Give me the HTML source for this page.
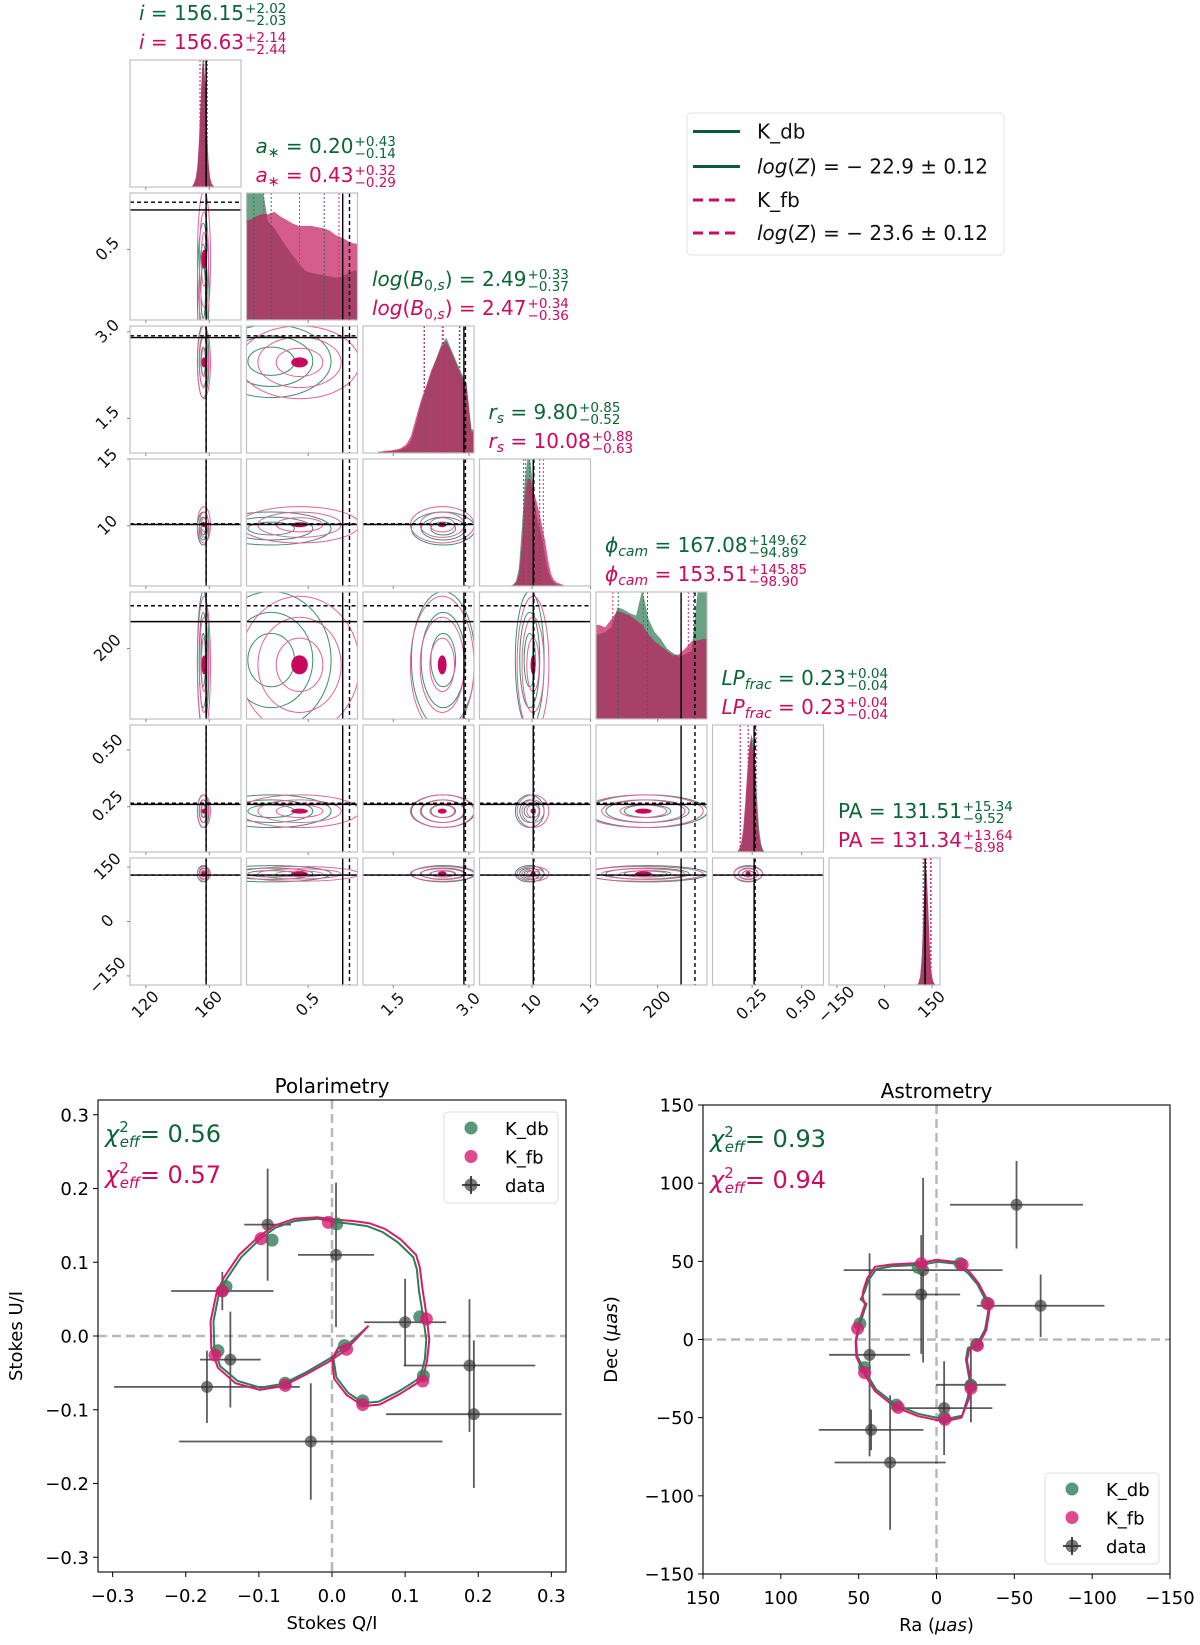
<!DOCTYPE html>
<html><head><meta charset="utf-8">
<style>
html,body{margin:0;padding:0;background:#fff;}
body{width:1200px;height:1645px;position:relative;overflow:hidden;font-family:"DejaVu Sans","Liberation Sans",sans-serif;}
svg{position:absolute;left:0;top:0;}
.ttl{position:absolute;white-space:nowrap;font-size:20px;line-height:28px;height:28px;}
.ttl .ss{display:inline-block;vertical-align:-0.4em;font-size:13.5px;line-height:12px;margin-left:1px;}
.ttl .ss span{display:block;}
.ttl sub{font-size:14px;vertical-align:-0.3em;line-height:0;}
.g{color:#0b6636;}
.p{color:#cc0a5e;}
</style></head>
<body>
<svg id="fig" width="1200" height="1645" xmlns="http://www.w3.org/2000/svg" font-family="DejaVu Sans, Liberation Sans, sans-serif"></svg>
<div id="titles"></div>
<script>
// ---------- corner data ----------
const rangeLo = [110, 0, 0.9, 5.5, 0, 0.05, -175];
const rangeHi = [180, 0.9, 3.1, 15, 360, 0.61, 175];
const medDb = [156.15, 0.20, 2.49, 9.80, 167.08, 0.23, 131.51];
const errPlusDb = [2.02, 0.43, 0.33, 0.85, 149.62, 0.04, 15.34];
const errMinusDb = [2.03, 0.14, 0.37, 0.52, 94.89, 0.04, 9.52];
const medFb = [156.63, 0.43, 2.47, 10.08, 153.51, 0.23, 131.34];
const errPlusFb = [2.14, 0.32, 0.34, 0.88, 145.85, 0.04, 13.64];
const errMinusFb = [2.44, 0.29, 0.36, 0.63, 98.90, 0.04, 8.98];
const truthSolid = [158, 0.78, 2.90, 10.10, 276, 0.26, 128];
const truthDashed = [158, 0.835, 2.93, 10.15, 321, 0.265, 128];
const histLo = [148, 0, 1.2, 8.0, 0, 0.17, 100];
const histStep = [1, 0.05, 0.1, 0.25, 20, 0.01, 5];
const histDbI = [0,.01,.03,.07,.15,.35,.7,1.05,1.1,.85,.45,.18,.06,.02,.01,0,0,0];
const histFbI = [0,.01,.04,.08,.18,.4,.72,1.0,1.05,.88,.5,.22,.08,.03,.01,0,0,0];
const histDbA = [1.2,1.2,1.15,.84,.78,.7,.62,.55,.48,.42,.4,.39,.38,.37,.36,.37,.4,.42];
const histFbA = [.85,.88,.9,.9,.92,.88,.85,.82,.8,.8,.8,.79,.78,.76,.72,.7,.67,.65];
const histDbB = [.01,.01,.02,.02,.03,.05,.1,.25,.42,.55,.68,.8,.92,.98,.88,.78,.68,.6,.2];
const histFbB = [.01,.02,.02,.03,.04,.07,.14,.3,.45,.57,.7,.8,.9,.95,.86,.76,.66,.58,.18];
const histDbR = [0,.01,.04,.15,.5,.9,1.1,1.05,.8,.6,.5,.4,.25,.12,.06,.03,.01,.01,0,0];
const histFbR = [0,.01,.03,.1,.35,.75,.92,.9,.8,.72,.62,.5,.38,.22,.1,.05,.03,.02,.01,0];
const histDbP = [.72,.74,.78,.95,.93,.9,.88,1.1,.85,.74,.68,.6,.56,.53,.55,.58,1.1,1.1];
const histFbP = [.8,.78,.85,.92,.9,.88,.84,.8,.72,.66,.62,.58,.54,.55,.6,.66,.67,.68];
const histDbL = [0,.02,.06,.15,.35,.6,.85,1,.95,.75,.45,.2,.07,.02,0,0];
const histFbL = [0,.03,.08,.2,.42,.68,.9,.98,.85,.6,.33,.14,.05,.01,0,0];
const histDbPA = [0,.02,.06,.2,.55,.9,1,.7,.35,.12,.04,.01,0];
const histFbPA = [0,.02,.08,.25,.6,.95,.95,.65,.3,.1,.03,.01,0];
const histDb = [histDbI, histDbA, histDbB, histDbR, histDbP, histDbL, histDbPA];
const histFb = [histFbI, histFbA, histFbB, histFbR, histFbP, histFbL, histFbPA];
const colTicks = [[120,160],[0.5],[1.5,3.0],[10,15],[200],[0.25,0.5],[-150,0,150]];
const colTickLabels = [['120','160'],['0.5'],['1.5','3.0'],['10','15'],['200'],['0.25','0.50'],['−150','0','150']];
const paramKeys = ['i','a-star','log-b','r-s','phi-cam','lp-frac','pa'];
const paramLabels = ['<i>i</i>','<i>a</i><sub>∗</sub>','<i>log</i>(<i>B</i><sub>0,<i>s</i></sub>)','<i>r<sub>s</sub></i>','<i>ϕ<sub>cam</sub></i>','<i>LP<sub>frac</sub></i>','PA'];

// ---------- polarimetry data ----------
const polDataQ = [-0.088, 0.0055, -0.150, -0.139, -0.171, -0.029, 0.100, 0.188, 0.194];
const polDataU = [0.151, 0.110, 0.061, -0.032, -0.069, -0.143, 0.0186, -0.040, -0.106];
const polErrQ = [0.032, 0.052, 0.070, 0.0415, 0.127, 0.180, 0.056, 0.090, 0.120];
const polErrU = [0.076, 0.098, 0.026, 0.065, 0.049, 0.079, 0.059, 0.090, 0.100];
const polCurveDbQ = [.048,.017,-.004,-.035,-.067,-.098,-.129,-.153,-.161,-.162,-.155,-.145,-.124,-.098,-.077,-.051,-.020,.001,.027,.048,.069,.090,.111,.116,.119,.124,.129,.127,.121,.106,.090,.064,.043,.022,.006,.002,.009,.020];
const polCurveDbU = [.012,-.016,-.031,-.049,-.065,-.070,-.061,-.041,-.016,.020,.056,.076,.107,.132,.147,.156,.159,.155,.152,.149,.141,.127,.107,.091,.061,.030,-.005,-.031,-.056,-.066,-.076,-.089,-.091,-.077,-.056,-.031,-.015,-.013];
const polCurveFbQ = [.050,.019,-.003,-.035,-.067,-.099,-.132,-.156,-.165,-.166,-.158,-.148,-.127,-.100,-.078,-.051,-.020,.002,.029,.051,.073,.094,.115,.120,.124,.129,.133,.130,.124,.108,.092,.065,.043,.020,.003,.000,.008,.020];
const polCurveFbU = [.014,-.019,-.034,-.052,-.068,-.073,-.064,-.043,-.017,.020,.058,.079,.110,.135,.150,.159,.161,.158,.156,.153,.145,.131,.110,.093,.062,.030,-.005,-.033,-.059,-.069,-.079,-.093,-.095,-.080,-.058,-.031,-.017,-.016];
const polMarkDbQ = [0.0065,-0.082,-0.145,-0.156,-0.064,0.042,0.017,0.125,0.120];
const polMarkDbU = [0.152,0.130,0.067,-0.020,-0.064,-0.088,-0.013,-0.054,0.026];
const polMarkFbQ = [-0.005,-0.097,-0.150,-0.160,-0.064,0.042,0.020,0.124,0.129];
const polMarkFbU = [0.154,0.132,0.061,-0.026,-0.067,-0.093,-0.018,-0.061,0.023];
const polTicks = [-0.3,-0.2,-0.1,0,0.1,0.2,0.3];
const polTickLabels = ['−0.3','−0.2','−0.1','0.0','0.1','0.2','0.3'];

// ---------- astrometry data ----------
const astDataRa = [-51.4, 8.6, 9.8, -66.9, 43.0, 42.0, 29.8, -4.9, -22.1];
const astDataDec = [86.2, 44.4, 28.8, 21.6, -9.8, -57.8, -78.7, -43.9, -29.0];
const astErrRa = [42.7, 51, 25, 41, 26, 33.6, 35.7, 31, 22.4];
const astErrDec = [28, 59, 38, 20, 65, 13, 43, 30, 24];
const astCurveDbRa = [9.3,29.0,38.8,43.8,46.2,48.7,45.0,48.7,51.6,51.1,46.2,38.8,26.6,11.8,-5.4,-16.5,-20.2,-21.4,-18.9,-20.2,-26.3,-31.2,-33.7,-31.2,-26.3,-20.2,-12.8,-0.5,9.3];
const astCurveDbDec = [47.8,46.8,44.9,37.7,30.5,25.7,22.8,11.3,-0.7,-10.3,-19.9,-31.9,-41.5,-47.5,-51.1,-48.7,-36.7,-27.1,-12.7,-5.5,-2.6,6.5,20.9,25.7,35.3,42.5,48.5,49.7,47.8];
const astCurveFbRa = [10.0,29.5,39.5,44.5,47.0,47.5,46.0,49.5,52.0,51.5,47.0,39.5,27.0,12.0,-5.0,-16.0,-21.0,-22.5,-19.5,-21.0,-27.0,-32.0,-34.5,-32.0,-27.0,-21.0,-13.0,0.0,10.0];
const astCurveFbDec = [49.0,48.0,46.5,39.0,31.5,27.5,22.0,12.0,-1.0,-11.0,-21.0,-33.0,-43.0,-49.0,-52.5,-50.0,-37.5,-28.5,-13.5,-6.5,-3.5,6.0,21.5,26.5,36.0,43.5,49.5,51.0,49.0];
const astMarkDbRa = [-15.2,11.8,-32.5,49.2,46.2,25.8,-22.1,-25.8,-4.9];
const astMarkDbDec = [48.5,46.1,23.3,10.1,-18.0,-42.0,-29.5,-3.1,-49.9];
const astMarkFbRa = [-16.5,9.8,-33.2,50.7,46.2,24.6,-22.1,-26.3,-5.4];
const astMarkFbDec = [47.8,48.5,22.8,7.0,-21.1,-43.4,-31.2,-3.8,-51.1];
const astTicks = [150,100,50,0,-50,-100,-150];
const astTickLabels = ['150','100','50','0','−50','−100','−150'];

// ---------- helpers ----------
const NS = 'http://www.w3.org/2000/svg';
const svg = document.getElementById('fig');
function mk(tag, attrs, parent) {
  const e = document.createElementNS(NS, tag);
  for (const k in attrs) e.setAttribute(k, attrs[k]);
  (parent || svg).appendChild(e);
  return e;
}
const GREEN_FILL = '#4f9270', PINK_FILL = '#c2185b';
const GREEN_LINE = '#3f8f66', PINK_LINE = '#e2629e';
const defs = mk('defs', {});

// ---------- corner ----------
const C0 = 130, CP = 116.5, CW = 111, R0 = 60, RP = 133, RH = 127;
function px(c, v) { return C0 + c * CP + (v - rangeLo[c]) / (rangeHi[c] - rangeLo[c]) * CW; }
function py(r, v) { return R0 + r * RP + RH - (v - rangeLo[r]) / (rangeHi[r] - rangeLo[r]) * RH; }

function histPath(k, arr) {
  const bottom = R0 + k * RP + RH;
  const step = histStep[k];
  let d = 'M' + px(k, histLo[k]) + ',' + bottom;
  d += ' L' + px(k, histLo[k]) + ',' + (bottom - arr[0] / 1.08 * RH);
  for (let j = 0; j < arr.length; j++) {
    const x = px(k, histLo[k] + (j + 0.5) * step);
    const y = bottom - arr[j] / 1.08 * RH;
    d += ' L' + x.toFixed(1) + ',' + y.toFixed(1);
  }
  const xe = px(k, histLo[k] + arr.length * step);
  d += ' L' + xe + ',' + (bottom - arr[arr.length - 1] / 1.08 * RH);
  d += ' L' + xe + ',' + bottom + ' Z';
  return d;
}

for (let r = 0; r < 7; r++) {
  for (let c = 0; c <= r; c++) {
    const x0 = C0 + c * CP, y0 = R0 + r * RP;
    const clip = mk('clipPath', { id: 'cp' + r + '_' + c }, defs);
    mk('rect', { x: x0, y: y0, width: CW, height: RH }, clip);
    const g = mk('g', {});
    
    
    const inner = mk('g', { 'clip-path': 'url(#cp' + r + '_' + c + ')' }, g);
    if (r === c) {
      const hg = mk('path', { d: histPath(c, histDb[c]), fill: GREEN_FILL, 'fill-opacity': 0.85 }, inner);
      
      
      const hp = mk('path', { d: histPath(c, histFb[c]), fill: PINK_FILL, 'fill-opacity': 0.7 }, inner);
      
      
      const qs = [
        [medDb[c] - errMinusDb[c], medDb[c], medDb[c] + errPlusDb[c], '#2f6f4f'],
        [medFb[c] - errMinusFb[c], medFb[c], medFb[c] + errPlusFb[c], '#e0287a']
      ];
      for (const q of qs) {
        for (let j = 0; j < 3; j++) {
          const x = px(c, q[j]);
          const ql = mk('line', { x1: x, x2: x, y1: y0, y2: y0 + RH, stroke: q[3], 'stroke-width': 1, 'stroke-dasharray': '2,2' }, inner);
          
          
        }
      }
      const xs = px(c, truthSolid[c]), xd = px(c, truthDashed[c]);
      mk('line', { x1: xs, x2: xs, y1: y0, y2: y0 + RH, stroke: '#000', 'stroke-width': 1.4 }, inner);
      mk('line', { x1: xd, x2: xd, y1: y0, y2: y0 + RH, stroke: '#000', 'stroke-width': 1.4, 'stroke-dasharray': '4,3' }, inner);
    } else {
      const models = [
        [medDb, errPlusDb, errMinusDb, GREEN_LINE],
        [medFb, errPlusFb, errMinusFb, PINK_LINE]
      ];
      for (const m of models) {
        const cx = px(c, m[0][c]), cy = py(r, m[0][r]);
        const sx = Math.min(0.3 * CW, (m[1][c] + m[2][c]) / 2 / (rangeHi[c] - rangeLo[c]) * CW);
        const sy = Math.min(0.3 * RH, (m[1][r] + m[2][r]) / 2 / (rangeHi[r] - rangeLo[r]) * RH);
        for (const lev of [0.7, 1.25, 1.8]) {
          const e = mk('ellipse', { cx: cx, cy: cy, rx: sx * lev, ry: sy * lev, fill: 'none', stroke: m[3], 'stroke-width': 1 }, inner);
          
          
        }
      }
      const fcx = px(c, medFb[c]), fcy = py(r, medFb[r]);
      const fsx = Math.min(0.3 * CW, (errPlusFb[c] + errMinusFb[c]) / 2 / (rangeHi[c] - rangeLo[c]) * CW);
      const fsy = Math.min(0.3 * RH, (errPlusFb[r] + errMinusFb[r]) / 2 / (rangeHi[r] - rangeLo[r]) * RH);
      const core = mk('ellipse', { cx: fcx, cy: fcy, rx: Math.max(2.5, fsx * 0.25), ry: Math.max(2.5, fsy * 0.25), fill: '#c8075e' }, inner);
      
      
      const xs = px(c, truthSolid[c]), xd = px(c, truthDashed[c]);
      const ys = py(r, truthSolid[r]), yd = py(r, truthDashed[r]);
      mk('line', { x1: xs, x2: xs, y1: y0, y2: y0 + RH, stroke: '#000', 'stroke-width': 1.4 }, inner);
      mk('line', { x1: xd, x2: xd, y1: y0, y2: y0 + RH, stroke: '#000', 'stroke-width': 1.4, 'stroke-dasharray': '4,3' }, inner);
      mk('line', { x1: x0, x2: x0 + CW, y1: ys, y2: ys, stroke: '#000', 'stroke-width': 1.4 }, inner);
      mk('line', { x1: x0, x2: x0 + CW, y1: yd, y2: yd, stroke: '#000', 'stroke-width': 1.4, 'stroke-dasharray': '4,3' }, inner);
    }
    const fr = mk('rect', { x: x0, y: y0, width: CW, height: RH, fill: 'none', stroke: '#c0c0c0', 'stroke-width': 1.2 }, g);
    
    
    for (const t of colTicks[c]) {
      const tx = px(c, t);
      mk('line', { x1: tx, x2: tx, y1: y0 + RH, y2: y0 + RH + 3, stroke: '#888', 'stroke-width': 1 }, g);
    }
    if (c === 0 && r > 0) {
      for (const t of colTicks[r]) {
        const ty = py(r, t);
        mk('line', { x1: x0 - 3, x2: x0, y1: ty, y2: ty, stroke: '#888', 'stroke-width': 1 }, g);
      }
    }
  }
}
for (let c = 0; c < 7; c++) {
  const bottom = R0 + 6 * RP + RH;
  colTicks[c].forEach((t, j) => {
    const x = px(c, t), y = bottom + 20;
    const tl = mk('text', { x: x, y: y, 'font-size': 16, 'text-anchor': 'middle', 'dominant-baseline': 'middle', transform: 'rotate(-45 ' + x + ' ' + y + ')', fill: '#111' });
    tl.textContent = colTickLabels[c][j];
    
    
  });
}
for (let r = 1; r < 7; r++) {
  colTicks[r].forEach((t, j) => {
    const x = C0 - 22, y = py(r, t);
    const tl = mk('text', { x: x, y: y, 'font-size': 16, 'text-anchor': 'middle', 'dominant-baseline': 'middle', transform: 'rotate(-45 ' + x + ' ' + y + ')', fill: '#111' });
    tl.textContent = colTickLabels[r][j];
    
    
  });
}
const titles = document.getElementById('titles');
for (let k = 0; k < 7; k++) {
  const left = C0 + k * CP + 9;
  const pinkC = R0 + k * RP - 17;
  const rows = [['g', medDb, errPlusDb, errMinusDb, pinkC - 29, 'k-db'], ['p', medFb, errPlusFb, errMinusFb, pinkC, 'k-fb']];
  for (const rw of rows) {
    const d = document.createElement('div');
    d.className = 'ttl ' + rw[0];
    d.style.left = left + 'px';
    d.style.top = (rw[4] - 15) + 'px';
    d.innerHTML = paramLabels[k] + ' = ' + rw[1][k].toFixed(2) + '<span class="ss"><span>+' + rw[2][k].toFixed(2) + '</span><span>−' + rw[3][k].toFixed(2) + '</span></span>';
    
    
    titles.appendChild(d);
  }
}

const lg = mk('g', {});


mk('rect', { x: 687, y: 113, width: 317, height: 142, rx: 4, fill: '#fff', stroke: '#e3e3e3', 'stroke-width': 1 }, lg);
const legRows = [
  ['K_db', '#0a5c36', '', 131.5, false],
  ['log(Z) = − 22.9 ± 0.12', '#0a5c36', '', 166.5, true],
  ['K_fb', '#cc0a66', '10,6', 200, false],
  ['log(Z) = − 23.6 ± 0.12', '#cc0a66', '10,6', 233, true]
];
for (const lr of legRows) {
  const ln = mk('line', { x1: 693, x2: 740, y1: lr[3], y2: lr[3], stroke: lr[1], 'stroke-width': 3, 'stroke-dasharray': lr[2] || 'none' }, lg);
  
  
  const t = mk('text', { x: 757, y: lr[3] + 7, 'font-size': 20, fill: '#111' }, lg);
  if (lr[4]) {
    const parts = lr[0].split(' = ');
    const a = mk('tspan', { 'font-style': 'italic' }, t); a.textContent = 'log';
    const b = mk('tspan', {}, t); b.textContent = '(';
    const c2 = mk('tspan', { 'font-style': 'italic' }, t); c2.textContent = 'Z';
    const d2 = mk('tspan', {}, t); d2.textContent = ') = ' + parts[1];
  } else t.textContent = lr[0];
  
  
}

function scatterPanel(o) {
  const g = mk('g', {});
  
  
  const X = v => o.ax + (v - o.xlo) / (o.xhi - o.xlo) * o.aw;
  const Y = v => o.ay + (o.yhi - v) / (o.yhi - o.ylo) * o.ah;
  const cid = 'clip-' + o.name;
  const cl = mk('clipPath', { id: cid }, defs);
  mk('rect', { x: o.ax, y: o.ay, width: o.aw, height: o.ah }, cl);
  const inner = mk('g', { 'clip-path': 'url(#' + cid + ')' }, g);
  const z0 = mk('line', { x1: X(0), x2: X(0), y1: o.ay, y2: o.ay + o.ah, stroke: '#b8b8b8', 'stroke-width': 2.5, 'stroke-dasharray': '9,5' }, inner);
  
  
  const z1 = mk('line', { x1: o.ax, x2: o.ax + o.aw, y1: Y(0), y2: Y(0), stroke: '#b8b8b8', 'stroke-width': 2.5, 'stroke-dasharray': '9,5' }, inner);
  
  
  for (let i = 0; i < o.dx.length; i++) {
    const cx = X(o.dx[i]), cy = Y(o.dy[i]);
    const eb = mk('g', {}, inner);
    
    
    mk('line', { x1: X(o.dx[i] - o.ex[i]), x2: X(o.dx[i] + o.ex[i]), y1: cy, y2: cy, stroke: '#333', 'stroke-opacity': 0.8, 'stroke-width': 1.8 }, eb);
    mk('line', { x1: cx, x2: cx, y1: Y(o.dy[i] - o.ey[i]), y2: Y(o.dy[i] + o.ey[i]), stroke: '#333', 'stroke-opacity': 0.8, 'stroke-width': 1.8 }, eb);
    mk('circle', { cx: cx, cy: cy, r: 6, fill: '#333', 'fill-opacity': 0.65 }, eb);
  }
  const curves = [[o.cdx, o.cdy, '#2e7d55', 'model-curve-k-db'], [o.cfx, o.cfy, '#d81b70', 'model-curve-k-fb']];
  for (const cv of curves) {
    let d = '';
    for (let i = 0; i < cv[0].length; i++) d += (i ? ' L' : 'M') + X(cv[0][i]).toFixed(1) + ',' + Y(cv[1][i]).toFixed(1);
    const p = mk('path', { d: d, fill: 'none', stroke: cv[2], 'stroke-width': 2 }, inner);
    
    
  }
  const marks = [[o.mdx, o.mdy, '#2e7d55', 'model-marker-k-db'], [o.mfx, o.mfy, '#d81b70', 'model-marker-k-fb']];
  for (const mm of marks) {
    for (let i = 0; i < mm[0].length; i++) {
      const c = mk('circle', { cx: X(mm[0][i]), cy: Y(mm[1][i]), r: 6.5, fill: mm[2], 'fill-opacity': 0.8 }, inner);
      
      
    }
  }
  mk('rect', { x: o.ax, y: o.ay, width: o.aw, height: o.ah, fill: 'none', stroke: '#000', 'stroke-width': 1.1 }, g);
  o.xt.forEach((t, j) => {
    const x = X(t);
    mk('line', { x1: x, x2: x, y1: o.ay + o.ah, y2: o.ay + o.ah + 5, stroke: '#000', 'stroke-width': 1 }, g);
    const tl = mk('text', { x: x, y: o.ay + o.ah + 30, 'font-size': 18, 'text-anchor': 'middle', fill: '#000' }, g);
    tl.textContent = o.xtl[j];
    
    
  });
  o.yt.forEach((t, j) => {
    const y = Y(t);
    mk('line', { x1: o.ax - 5, x2: o.ax, y1: y, y2: y, stroke: '#000', 'stroke-width': 1 }, g);
    const tl = mk('text', { x: o.ax - 9, y: y + 6.5, 'font-size': 18, 'text-anchor': 'end', fill: '#000' }, g);
    tl.textContent = o.ytl[j];
    
    
  });
  const tt = mk('text', { x: o.ax + o.aw / 2, y: o.ay - 7, 'font-size': 20, 'text-anchor': 'middle', fill: '#000' }, g);
  tt.textContent = o.title;
  
  
  const xl = mk('text', { x: o.ax + o.aw / 2, y: o.ay + o.ah + 57, 'font-size': 18, 'text-anchor': 'middle', fill: '#000' }, g);
  xl.innerHTML = o.xlabel;
  
  
  const ylx = o.ylx, yly = o.ay + o.ah / 2;
  const yl = mk('text', { x: ylx, y: yly, 'font-size': 18, 'text-anchor': 'middle', transform: 'rotate(-90 ' + ylx + ' ' + yly + ')', fill: '#000' }, g);
  yl.innerHTML = o.ylabel;
  
  
  const chis = [[o.chiDb, '#0b6636', o.ay + 42, 'chi2-k-db'], [o.chiFb, '#cc0a5e', o.ay + 83, 'chi2-k-fb']];
  for (const ch of chis) {
    const t = mk('text', { x: o.ax + 7, y: ch[2], 'font-size': 24, fill: ch[1] }, g);
    t.innerHTML = '<tspan font-style="italic">χ</tspan><tspan font-size="15" dy="-10">2</tspan><tspan font-size="15" font-style="italic" dx="-9" dy="15">eff</tspan><tspan dy="-5">= ' + ch[0] + '</tspan>';
    
    
  }
  const L = mk('g', {}, g);
  
  
  mk('rect', { x: o.lx, y: o.ly, width: 114, height: 91, rx: 4, fill: '#fff', 'fill-opacity': 0.85, stroke: '#dcdcdc', 'stroke-width': 1 }, L);
  const ents = [['K_db', '#2e7d55'], ['K_fb', '#d81b70'], ['data', '#333']];
  ents.forEach((en, j) => {
    const yy = o.ly + 16 + j * 28.5, mx = o.lx + 27;
    if (j === 2) {
      mk('line', { x1: mx - 9, x2: mx + 9, y1: yy, y2: yy, stroke: '#333', 'stroke-width': 1.8 }, L);
      mk('line', { x1: mx, x2: mx, y1: yy - 9, y2: yy + 9, stroke: '#333', 'stroke-width': 1.8 }, L);
    }
    mk('circle', { cx: mx, cy: yy, r: 6.5, fill: en[1], 'fill-opacity': j === 2 ? 0.65 : 0.8 }, L);
    const t = mk('text', { x: o.lx + 61, y: yy + 7, 'font-size': 18, fill: '#000' }, L);
    t.textContent = en[0];
    
    
  });
}

scatterPanel({
  name: 'polarimetry-plot', title: 'Polarimetry',
  ax: 98, ay: 1100, aw: 468, ah: 472, xlo: -0.32, xhi: 0.32, ylo: -0.32, yhi: 0.32,
  dx: polDataQ, dy: polDataU, ex: polErrQ, ey: polErrU,
  cdx: polCurveDbQ, cdy: polCurveDbU, cfx: polCurveFbQ, cfy: polCurveFbU,
  mdx: polMarkDbQ, mdy: polMarkDbU, mfx: polMarkFbQ, mfy: polMarkFbU,
  xt: polTicks, xtl: polTickLabels, yt: polTicks, ytl: polTickLabels,
  xlabel: 'Stokes Q/I', ylabel: 'Stokes U/I', ylx: 22,
  chiDb: '0.56', chiFb: '0.57', lx: 444, ly: 1112
});
scatterPanel({
  name: 'astrometry-plot', title: 'Astrometry',
  ax: 703, ay: 1105, aw: 467, ah: 469, xlo: 150, xhi: -150, ylo: -150, yhi: 150,
  dx: astDataRa, dy: astDataDec, ex: astErrRa, ey: astErrDec,
  cdx: astCurveDbRa, cdy: astCurveDbDec, cfx: astCurveFbRa, cfy: astCurveFbDec,
  mdx: astMarkDbRa, mdy: astMarkDbDec, mfx: astMarkFbRa, mfy: astMarkFbDec,
  xt: astTicks, xtl: astTickLabels, yt: astTicks, ytl: astTickLabels,
  xlabel: 'Ra (<tspan font-style="italic">μas</tspan>)', ylabel: 'Dec (<tspan font-style="italic">μas</tspan>)', ylx: 617,
  chiDb: '0.93', chiFb: '0.94', lx: 1045, ly: 1473
});
</script>
</body></html>
